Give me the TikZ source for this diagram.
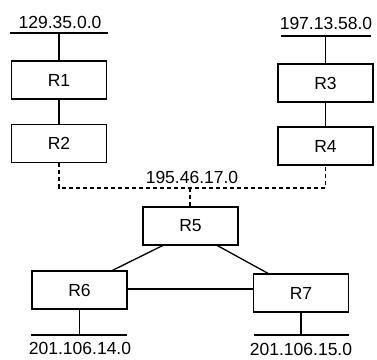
\documentclass[tikz,border=0pt]{standalone}
\usepackage{fontspec}
\setmainfont{Liberation Sans}
\begin{document}
\begin{tikzpicture}[x=1pt,y=-1pt,
  router/.style={draw, line width=1.3pt, minimum width=95pt, minimum height=38pt, inner sep=0pt, font=\fontsize{17.5}{20}\selectfont},
  netlabel/.style={inner sep=0pt, font=\fontsize{17.5}{20}\selectfont},
  link/.style={line width=1.3pt},
  busline/.style={line width=1.3pt, dash pattern=on 4pt off 3pt}]
\useasboundingbox (0,0) rectangle (377,359);
% routers
\node[router] (R1) at (59,80) {R1};
\node[router] (R2) at (59,143.5) {R2};
\node[router] (R3) at (325.5,83) {R3};
\node[router] (R4) at (325.5,146) {R4};
\node[router] (R5) at (190.5,226) {R5};
\node[router] (R6) at (79.5,290) {R6};
\node[router] (R7) at (301,293) {R7};
% network segments
\coordinate (n1L) at (10,33); \coordinate (n1R) at (108,33);
\coordinate (n3L) at (281,36); \coordinate (n3R) at (371,36);
\coordinate (n6L) at (31,335); \coordinate (n6R) at (127,335);
\coordinate (n7L) at (254,335); \coordinate (n7R) at (349,335);
\coordinate (bus) at (190,188);
\draw[link] (n1L) -- (n1R);
\draw[link] (n3L) -- (n3R);
\draw[link] (n6L) -- (n6R);
\draw[link] (n7L) -- (n7R);
% labels
\node[netlabel] (l1) at (60,22) {129.35.0.0};
\node[netlabel] (l3) at (326,23) {197.13.58.0};
\node[netlabel] (l5) at (192,177) {195.46.17.0};
\node[netlabel] (l6) at (80,348) {201.106.14.0};
\node[netlabel] (l7) at (301,349) {201.106.15.0};
% connectors
\draw[link] (R1.north) -- (R1.north |- n1L);
\draw[link] (R1) -- (R2);
\draw[link] (R3.north) -- (R3.north |- n3L);
\draw[link] (R3) -- (R4);
\draw[busline] (R2.south) |- (bus) -| (R4.south);
\draw[busline] (R5.north -| bus) -- (bus);
\draw[link] ([xshift=-28pt]R5.south) -- ([xshift=33pt]R6.north);
\draw[link] ([xshift=27pt]R5.south) -- ([xshift=-33pt]R7.north);
\draw[link] (R6.east |- 0,289) -- (R7.west |- 0,289);
\draw[link] (R6.south) -- (R6.south |- n6L);
\draw[link] (R7.south) -- (R7.south |- n7L);
\end{tikzpicture}
\end{document}
